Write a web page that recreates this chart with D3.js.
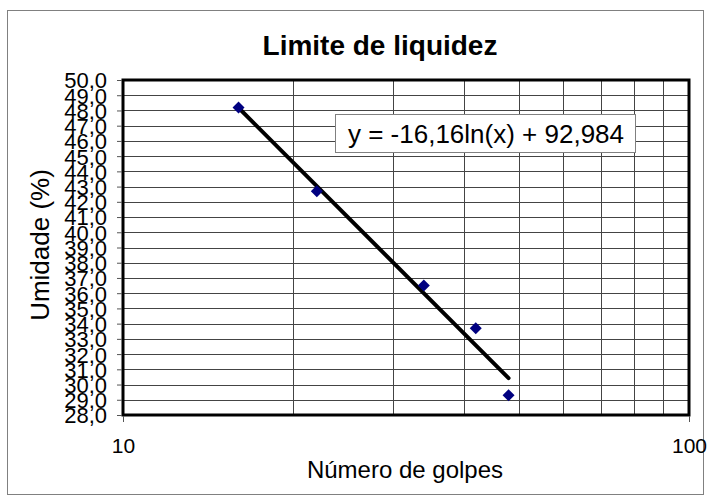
<!DOCTYPE html>
<html>
<head>
<meta charset="utf-8">
<script src="https://cdn.jsdelivr.net/npm/d3@7"></script>
<style>
  body { margin: 0; background: #fff; }
  text { font-family: "Liberation Sans", Arial, sans-serif; fill: #000; }
</style>
</head>
<body>
<script>
// data
var golpes = [16, 22, 34, 42, 48];
var umidade = [48.2, 42.7, 36.5, 33.7, 29.3];
var trendCoef = [-16.16, 92.984]; // y = a ln(x) + b
var yTicks = d3.range(28, 51, 1);
var xGrid = [20, 30, 40, 50, 60, 70, 80, 90];
var xTicks = [10, 100];

var width = 711, height = 502;
var margin = { top: 80, right: 22, bottom: 87, left: 123 };

var svg = d3.select("body").append("svg")
  .attr("width", width)
  .attr("height", height);

// outer frame
svg.append("rect")
  .attr("x", 7.5).attr("y", 10.5)
  .attr("width", 696).attr("height", 484)
  .attr("fill", "#fff")
  .attr("stroke", "#808080");

var x = d3.scaleLog().domain([10, 100]).range([margin.left, width - margin.right]);
var y = d3.scaleLinear().domain([28, 50]).range([height - margin.bottom, margin.top]);

var g = svg.append("g");

//--------------------------- grid ---------------------------//
g.selectAll(".hgrid").data(yTicks).enter().append("line")
  .attr("x1", x(10)).attr("x2", x(100))
  .attr("y1", function (d) { return Math.round(y(d)) + 0.5; })
  .attr("y2", function (d) { return Math.round(y(d)) + 0.5; })
  .attr("stroke", "#444").attr("stroke-width", 1);

g.selectAll(".vgrid").data(xGrid).enter().append("line")
  .attr("x1", function (d) { return Math.round(x(d)) + 0.5; })
  .attr("x2", function (d) { return Math.round(x(d)) + 0.5; })
  .attr("y1", y(28)).attr("y2", y(50))
  .attr("stroke", "#444").attr("stroke-width", 1);

// plot border
g.append("rect")
  .attr("x", x(10)).attr("y", y(50))
  .attr("width", x(100) - x(10)).attr("height", y(28) - y(50))
  .attr("fill", "none").attr("stroke", "#000").attr("stroke-width", 3);

//--------------------------- axes ---------------------------//
var yAxis = d3.axisLeft(y).tickValues(yTicks).tickSize(5).tickPadding(10)
  .tickFormat(function (d) { return d3.format(".1f")(d).replace(".", ","); });
var ya = svg.append("g").attr("transform", "translate(" + (x(10) - 1) + ",0)").call(yAxis);
ya.select(".domain").remove();
ya.selectAll("line").attr("stroke", "#555");
ya.selectAll("text").style("font-size", "22px").attr("dy", "0.36em");

var xAxis = d3.axisBottom(x).tickValues(xTicks).tickSize(6).tickPadding(16)
  .tickFormat(d3.format("d"));
var xa = svg.append("g").attr("transform", "translate(0," + (y(28) + 1) + ")").call(xAxis);
xa.select(".domain").remove();
xa.selectAll("line").attr("stroke", "#555");
xa.selectAll("text").style("font-size", "21px");

//--------------------------- trend line ---------------------------//
var trendX = d3.extent(golpes);
var line = d3.line()
  .x(function (d) { return x(d); })
  .y(function (d) { return y(trendCoef[0] * Math.log(d) + trendCoef[1]); });
g.append("path")
  .datum(trendX)
  .attr("d", line)
  .attr("fill", "none")
  .attr("stroke", "#000")
  .attr("stroke-width", 4)
  .attr("stroke-linecap", "round");

//--------------------------- points ---------------------------//
var pts = golpes.map(function (d, i) { return { x: d, y: umidade[i] }; });
g.selectAll(".pt").data(pts).enter().append("path")
  .attr("d", d3.symbol().type(d3.symbolSquare).size(72))
  .attr("transform", function (d) {
    return "translate(" + x(d.x) + "," + y(d.y) + ") rotate(45)";
  })
  .attr("fill", "#000080");

//--------------------------- equation box ---------------------------//
svg.append("rect")
  .attr("x", 335.5).attr("y", 114.5)
  .attr("width", 300).attr("height", 38)
  .attr("fill", "#fff").attr("stroke", "#808080");
svg.append("text")
  .attr("x", 486).attr("y", 143)
  .attr("text-anchor", "middle")
  .style("font-size", "26px")
  .text("y = -16,16ln(x) + 92,984");

//--------------------------- titles ---------------------------//
svg.append("text")
  .attr("x", 380).attr("y", 55)
  .attr("text-anchor", "middle")
  .style("font-size", "28px").style("font-weight", "bold")
  .text("Limite de liquidez");

svg.append("text")
  .attr("x", 405).attr("y", 478)
  .attr("text-anchor", "middle")
  .style("font-size", "24px")
  .text("Número de golpes");

svg.append("text")
  .attr("transform", "translate(49,245) rotate(-90)")
  .attr("text-anchor", "middle")
  .style("font-size", "26px")
  .text("Umidade (%)");
</script>
</body>
</html>
